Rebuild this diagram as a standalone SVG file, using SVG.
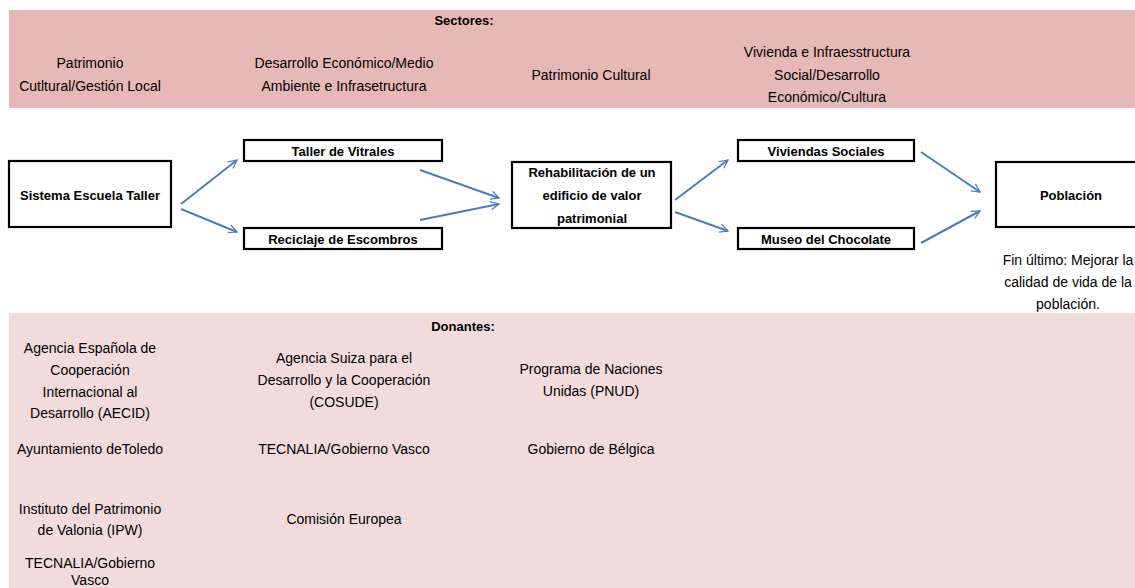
<svg xmlns="http://www.w3.org/2000/svg" width="1135" height="588" viewBox="0 0 1135 588">
<defs>
<style>
text{font-family:"Liberation Sans",Arial,sans-serif;font-size:14px;fill:#000;text-anchor:middle;dominant-baseline:central}
.b{font-weight:bold;font-size:13px}
.box{fill:#fff;stroke:#000;stroke-width:2.2}
.arr{stroke:#4a7ebb;stroke-width:2;fill:none;marker-end:url(#ah)}
</style>
<marker id="ah" viewBox="0 0 12 12" refX="11" refY="6" markerWidth="10" markerHeight="10" markerUnits="userSpaceOnUse" orient="auto">
<path d="M1,1 L11,6 L1,11" fill="none" stroke="#4a7ebb" stroke-width="1.5"/>
</marker>
</defs>
<rect width="1135" height="588" fill="#fff"/>
<g id="sectores">
<rect x="9" y="10" width="1126" height="98" fill="#e6b8b7"/>
<text class="b" x="464" y="20">Sectores:</text>
<text x="90" y="63">Patrimonio</text>
<text x="90" y="86">Cutltural/Gestión Local</text>
<text x="344" y="63">Desarrollo Económico/Medio</text>
<text x="344" y="86">Ambiente e Infrasetructura</text>
<text x="591" y="75">Patrimonio Cultural</text>
<text x="827" y="52">Vivienda e Infraesstructura</text>
<text x="827" y="75">Social/Desarrollo</text>
<text x="827" y="97">Económico/Cultura</text>
</g>
<g id="donantes">
<rect x="9" y="313" width="1126" height="275" fill="#f2dcdb"/>
<text class="b" x="463" y="326">Donantes:</text>
<text x="90" y="348">Agencia Española de</text>
<text x="90" y="370">Cooperación</text>
<text x="90" y="392">Internacional al</text>
<text x="90" y="413">Desarrollo (AECID)</text>
<text x="344" y="358">Agencia Suiza para el</text>
<text x="344" y="380">Desarrollo y la Cooperación</text>
<text x="344" y="402">(COSUDE)</text>
<text x="591" y="369">Programa de Naciones</text>
<text x="591" y="391">Unidas (PNUD)</text>
<text x="90" y="449">Ayuntamiento deToledo</text>
<text x="344" y="449">TECNALIA/Gobierno Vasco</text>
<text x="591" y="449">Gobierno de Bélgica</text>
<text x="90" y="509">Instituto del Patrimonio</text>
<text x="90" y="530">de Valonia (IPW)</text>
<text x="344" y="519">Comisión Europea</text>
<text x="90" y="563">TECNALIA/Gobierno</text>
<text x="90" y="580">Vasco</text>
</g>
<g id="connectors">
<line class="arr" x1="181" y1="204" x2="237" y2="160"/>
<line class="arr" x1="181" y1="209" x2="237" y2="232"/>
<line class="arr" x1="420" y1="170" x2="499" y2="198"/>
<line class="arr" x1="420" y1="220" x2="499" y2="204"/>
<line class="arr" x1="675" y1="200" x2="728" y2="160"/>
<line class="arr" x1="675" y1="212" x2="728" y2="231"/>
<line class="arr" x1="921" y1="152" x2="980" y2="192"/>
<line class="arr" x1="921" y1="243" x2="980" y2="211"/>
</g>
<g id="sistema">
<rect class="box" x="9" y="161" width="162" height="66"/>
<text class="b" x="90" y="195">Sistema Escuela Taller</text>
</g>
<g id="vitrales">
<rect class="box" x="244" y="140" width="198" height="21"/>
<text class="b" x="343" y="151">Taller de Vitrales</text>
</g>
<g id="reciclaje">
<rect class="box" x="244" y="228" width="198" height="21"/>
<text class="b" x="343" y="239">Reciclaje de Escombros</text>
</g>
<g id="rehabilitacion">
<rect class="box" x="512" y="162" width="159" height="66"/>
<text class="b" x="592" y="172">Rehabilitación de un</text>
<text class="b" x="592" y="195">edificio de valor</text>
<text class="b" x="592" y="218">patrimonial</text>
</g>
<g id="viviendas">
<rect class="box" x="738" y="140" width="176" height="21"/>
<text class="b" x="826" y="151">Viviendas Sociales</text>
</g>
<g id="museo">
<rect class="box" x="738" y="228" width="176" height="21"/>
<text class="b" x="826" y="239">Museo del Chocolate</text>
</g>
<g id="poblacion">
<rect class="box" x="996" y="162" width="150" height="65"/>
<text class="b" x="1071" y="195">Población</text>
<text x="1068" y="260">Fin último: Mejorar la</text>
<text x="1068" y="282">calidad de vida de la</text>
<text x="1068" y="304">población.</text>
</g>
</svg>
